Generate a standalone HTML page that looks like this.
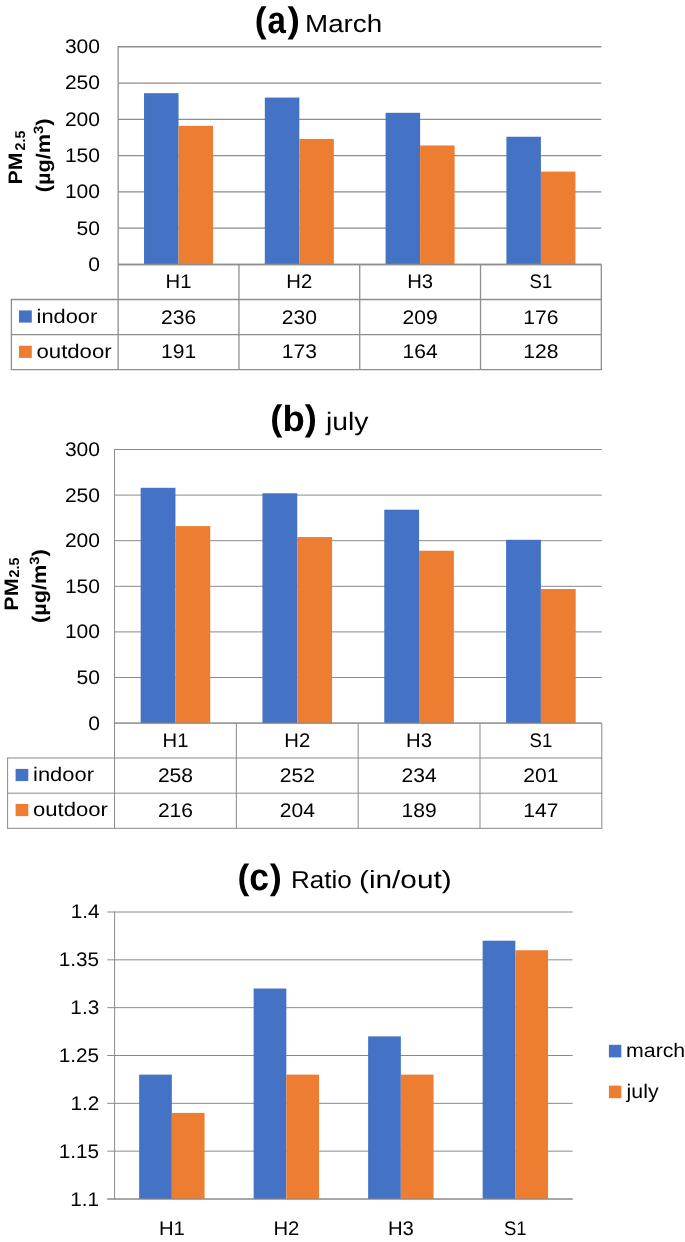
<!DOCTYPE html>
<html><head><meta charset="utf-8"><title>PM2.5 charts</title>
<style>
html,body{margin:0;padding:0;background:#fff;}
svg{display:block;will-change:transform;font-family:"Liberation Sans",sans-serif;fill:#000;}
</style></head><body>
<svg width="685" height="1242" viewBox="0 0 685 1242">
<rect width="685" height="1242" fill="#ffffff"/>
<g shape-rendering="auto">
<line x1="118.15" y1="46.75" x2="601.30" y2="46.75" stroke="#8E8E8E" stroke-width="1.3"/>
<line x1="118.15" y1="83.04" x2="601.30" y2="83.04" stroke="#8E8E8E" stroke-width="1.3"/>
<line x1="118.15" y1="119.33" x2="601.30" y2="119.33" stroke="#8E8E8E" stroke-width="1.3"/>
<line x1="118.15" y1="155.62" x2="601.30" y2="155.62" stroke="#8E8E8E" stroke-width="1.3"/>
<line x1="118.15" y1="191.92" x2="601.30" y2="191.92" stroke="#8E8E8E" stroke-width="1.3"/>
<line x1="118.15" y1="228.21" x2="601.30" y2="228.21" stroke="#8E8E8E" stroke-width="1.3"/>
<line x1="118.15" y1="264.50" x2="601.30" y2="264.50" stroke="#8E8E8E" stroke-width="1.3"/>
<rect x="144.03" y="93.20" width="34.51" height="171.30" fill="#4472C4"/>
<rect x="178.54" y="125.87" width="34.51" height="138.63" fill="#ED7D31"/>
<rect x="264.82" y="97.56" width="34.51" height="166.94" fill="#4472C4"/>
<rect x="299.33" y="138.93" width="34.51" height="125.57" fill="#ED7D31"/>
<rect x="385.61" y="112.80" width="34.51" height="151.70" fill="#4472C4"/>
<rect x="420.12" y="145.46" width="34.51" height="119.04" fill="#ED7D31"/>
<rect x="506.40" y="136.75" width="34.51" height="127.75" fill="#4472C4"/>
<rect x="540.91" y="171.59" width="34.51" height="92.91" fill="#ED7D31"/>
<line x1="118.15" y1="264.50" x2="601.30" y2="264.50" stroke="#8E8E8E" stroke-width="1.3"/>
<line x1="10.75" y1="299.50" x2="601.95" y2="299.50" stroke="#8E8E8E" stroke-width="1.3"/>
<line x1="10.75" y1="334.60" x2="601.95" y2="334.60" stroke="#8E8E8E" stroke-width="1.3"/>
<line x1="10.75" y1="369.60" x2="601.95" y2="369.60" stroke="#8E8E8E" stroke-width="1.3"/>
<line x1="118.15" y1="46.10" x2="118.15" y2="369.60" stroke="#8E8E8E" stroke-width="1.3"/>
<line x1="238.94" y1="264.50" x2="238.94" y2="369.60" stroke="#8E8E8E" stroke-width="1.3"/>
<line x1="359.73" y1="264.50" x2="359.73" y2="369.60" stroke="#8E8E8E" stroke-width="1.3"/>
<line x1="480.51" y1="264.50" x2="480.51" y2="369.60" stroke="#8E8E8E" stroke-width="1.3"/>
<line x1="601.30" y1="264.50" x2="601.30" y2="369.60" stroke="#8E8E8E" stroke-width="1.3"/>
<line x1="11.40" y1="299.50" x2="11.40" y2="369.60" stroke="#8E8E8E" stroke-width="1.3"/>
<line x1="114.55" y1="449.50" x2="601.80" y2="449.50" stroke="#8A8A8A" stroke-width="1.0"/>
<line x1="114.55" y1="495.10" x2="601.80" y2="495.10" stroke="#8A8A8A" stroke-width="1.0"/>
<line x1="114.55" y1="540.70" x2="601.80" y2="540.70" stroke="#8A8A8A" stroke-width="1.0"/>
<line x1="114.55" y1="586.30" x2="601.80" y2="586.30" stroke="#8A8A8A" stroke-width="1.0"/>
<line x1="114.55" y1="631.90" x2="601.80" y2="631.90" stroke="#8A8A8A" stroke-width="1.0"/>
<line x1="114.55" y1="677.50" x2="601.80" y2="677.50" stroke="#8A8A8A" stroke-width="1.0"/>
<line x1="114.55" y1="723.10" x2="601.80" y2="723.10" stroke="#8A8A8A" stroke-width="1.0"/>
<rect x="140.65" y="487.80" width="34.80" height="235.30" fill="#4472C4"/>
<rect x="175.46" y="526.11" width="34.80" height="196.99" fill="#ED7D31"/>
<rect x="262.47" y="493.28" width="34.80" height="229.82" fill="#4472C4"/>
<rect x="297.27" y="537.05" width="34.80" height="186.05" fill="#ED7D31"/>
<rect x="384.28" y="509.69" width="34.80" height="213.41" fill="#4472C4"/>
<rect x="419.08" y="550.73" width="34.80" height="172.37" fill="#ED7D31"/>
<rect x="506.09" y="539.79" width="34.80" height="183.31" fill="#4472C4"/>
<rect x="540.89" y="589.04" width="34.80" height="134.06" fill="#ED7D31"/>
<line x1="114.55" y1="723.10" x2="601.80" y2="723.10" stroke="#8A8A8A" stroke-width="1.0"/>
<line x1="7.10" y1="758.00" x2="602.30" y2="758.00" stroke="#8A8A8A" stroke-width="1.0"/>
<line x1="7.10" y1="793.20" x2="602.30" y2="793.20" stroke="#8A8A8A" stroke-width="1.0"/>
<line x1="7.10" y1="828.30" x2="602.30" y2="828.30" stroke="#8A8A8A" stroke-width="1.0"/>
<line x1="114.55" y1="449.00" x2="114.55" y2="828.30" stroke="#8A8A8A" stroke-width="1.0"/>
<line x1="236.36" y1="723.10" x2="236.36" y2="828.30" stroke="#8A8A8A" stroke-width="1.0"/>
<line x1="358.17" y1="723.10" x2="358.17" y2="828.30" stroke="#8A8A8A" stroke-width="1.0"/>
<line x1="479.99" y1="723.10" x2="479.99" y2="828.30" stroke="#8A8A8A" stroke-width="1.0"/>
<line x1="601.80" y1="723.10" x2="601.80" y2="828.30" stroke="#8A8A8A" stroke-width="1.0"/>
<line x1="7.60" y1="758.00" x2="7.60" y2="828.30" stroke="#8A8A8A" stroke-width="1.0"/>
<line x1="107.30" y1="912.00" x2="572.60" y2="912.00" stroke="#8A8A8A" stroke-width="1.0"/>
<line x1="107.30" y1="959.83" x2="572.60" y2="959.83" stroke="#8A8A8A" stroke-width="1.0"/>
<line x1="107.30" y1="1007.67" x2="572.60" y2="1007.67" stroke="#8A8A8A" stroke-width="1.0"/>
<line x1="107.30" y1="1055.50" x2="572.60" y2="1055.50" stroke="#8A8A8A" stroke-width="1.0"/>
<line x1="107.30" y1="1103.33" x2="572.60" y2="1103.33" stroke="#8A8A8A" stroke-width="1.0"/>
<line x1="107.30" y1="1151.17" x2="572.60" y2="1151.17" stroke="#8A8A8A" stroke-width="1.0"/>
<line x1="107.30" y1="1199.00" x2="572.60" y2="1199.00" stroke="#8A8A8A" stroke-width="1.0"/>
<rect x="139.14" y="1074.63" width="32.71" height="124.37" fill="#4472C4"/>
<rect x="171.85" y="1112.90" width="32.71" height="86.10" fill="#ED7D31"/>
<rect x="253.64" y="988.53" width="32.71" height="210.47" fill="#4472C4"/>
<rect x="286.35" y="1074.63" width="32.71" height="124.37" fill="#ED7D31"/>
<rect x="368.14" y="1036.37" width="32.71" height="162.63" fill="#4472C4"/>
<rect x="400.85" y="1074.63" width="32.71" height="124.37" fill="#ED7D31"/>
<rect x="482.64" y="940.70" width="32.71" height="258.30" fill="#4472C4"/>
<rect x="515.35" y="950.27" width="32.71" height="248.73" fill="#ED7D31"/>
<line x1="107.30" y1="1199.00" x2="572.60" y2="1199.00" stroke="#8A8A8A" stroke-width="1.0"/>
<line x1="114.60" y1="911.50" x2="114.60" y2="1199.50" stroke="#8A8A8A" stroke-width="1.0"/>
<rect x="19.00" y="310.40" width="12.80" height="12.20" fill="#4472C4"/>
<rect x="19.00" y="345.70" width="12.80" height="12.20" fill="#ED7D31"/>
<rect x="15.60" y="768.90" width="12.70" height="12.20" fill="#4472C4"/>
<rect x="15.60" y="803.90" width="12.70" height="12.20" fill="#ED7D31"/>
<rect x="608.90" y="1044.80" width="12.40" height="12.60" fill="#4472C4"/>
<rect x="608.90" y="1085.60" width="12.40" height="12.60" fill="#ED7D31"/>
</g>
<g text-rendering="geometricPrecision">
<text transform="translate(178.54,288.40) scale(1.0300,1)" font-size="19.70" text-anchor="middle">H1</text>
<text transform="translate(299.33,288.40) scale(1.0300,1)" font-size="19.70" text-anchor="middle">H2</text>
<text transform="translate(420.12,288.40) scale(1.0300,1)" font-size="19.70" text-anchor="middle">H3</text>
<text transform="translate(540.91,288.40) scale(0.9400,1)" font-size="19.70" text-anchor="middle">S1</text>
<text transform="translate(178.54,323.70) scale(1.0700,1)" font-size="19.70" text-anchor="middle">236</text>
<text transform="translate(299.33,323.70) scale(1.0700,1)" font-size="19.70" text-anchor="middle">230</text>
<text transform="translate(420.12,323.70) scale(1.0700,1)" font-size="19.70" text-anchor="middle">209</text>
<text transform="translate(540.91,323.70) scale(1.0700,1)" font-size="19.70" text-anchor="middle">176</text>
<text transform="translate(178.54,358.40) scale(1.0700,1)" font-size="19.70" text-anchor="middle">191</text>
<text transform="translate(299.33,358.40) scale(1.0700,1)" font-size="19.70" text-anchor="middle">173</text>
<text transform="translate(420.12,358.40) scale(1.0700,1)" font-size="19.70" text-anchor="middle">164</text>
<text transform="translate(540.91,358.40) scale(1.0700,1)" font-size="19.70" text-anchor="middle">128</text>
<text transform="translate(100.05,53.15) scale(1.0700,1)" font-size="19.70" text-anchor="end">300</text>
<text transform="translate(100.05,89.44) scale(1.0700,1)" font-size="19.70" text-anchor="end">250</text>
<text transform="translate(100.05,125.73) scale(1.0700,1)" font-size="19.70" text-anchor="end">200</text>
<text transform="translate(100.05,162.03) scale(1.0700,1)" font-size="19.70" text-anchor="end">150</text>
<text transform="translate(100.05,198.32) scale(1.0700,1)" font-size="19.70" text-anchor="end">100</text>
<text transform="translate(100.05,234.61) scale(1.0700,1)" font-size="19.70" text-anchor="end">50</text>
<text transform="translate(100.05,270.90) scale(1.0700,1)" font-size="19.70" text-anchor="end">0</text>
<text transform="translate(175.46,746.50) scale(1.0300,1)" font-size="19.70" text-anchor="middle">H1</text>
<text transform="translate(297.27,746.50) scale(1.0300,1)" font-size="19.70" text-anchor="middle">H2</text>
<text transform="translate(419.08,746.50) scale(1.0300,1)" font-size="19.70" text-anchor="middle">H3</text>
<text transform="translate(540.89,746.50) scale(0.9400,1)" font-size="19.70" text-anchor="middle">S1</text>
<text transform="translate(175.46,781.80) scale(1.0700,1)" font-size="19.70" text-anchor="middle">258</text>
<text transform="translate(297.27,781.80) scale(1.0700,1)" font-size="19.70" text-anchor="middle">252</text>
<text transform="translate(419.08,781.80) scale(1.0700,1)" font-size="19.70" text-anchor="middle">234</text>
<text transform="translate(540.89,781.80) scale(1.0700,1)" font-size="19.70" text-anchor="middle">201</text>
<text transform="translate(175.46,817.30) scale(1.0700,1)" font-size="19.70" text-anchor="middle">216</text>
<text transform="translate(297.27,817.30) scale(1.0700,1)" font-size="19.70" text-anchor="middle">204</text>
<text transform="translate(419.08,817.30) scale(1.0700,1)" font-size="19.70" text-anchor="middle">189</text>
<text transform="translate(540.89,817.30) scale(1.0700,1)" font-size="19.70" text-anchor="middle">147</text>
<text transform="translate(100.05,455.90) scale(1.0700,1)" font-size="19.70" text-anchor="end">300</text>
<text transform="translate(100.05,501.50) scale(1.0700,1)" font-size="19.70" text-anchor="end">250</text>
<text transform="translate(100.05,547.10) scale(1.0700,1)" font-size="19.70" text-anchor="end">200</text>
<text transform="translate(100.05,592.70) scale(1.0700,1)" font-size="19.70" text-anchor="end">150</text>
<text transform="translate(100.05,638.30) scale(1.0700,1)" font-size="19.70" text-anchor="end">100</text>
<text transform="translate(100.05,683.90) scale(1.0700,1)" font-size="19.70" text-anchor="end">50</text>
<text transform="translate(100.05,729.50) scale(1.0700,1)" font-size="19.70" text-anchor="end">0</text>
<text transform="translate(36.62,322.60) scale(1.1080,1)" font-size="19.70">indoor</text>
<text transform="translate(36.47,357.90) scale(1.1260,1)" font-size="19.70">outdoor</text>
<text transform="translate(33.01,780.90) scale(1.1132,1)" font-size="19.70">indoor</text>
<text transform="translate(32.98,816.40) scale(1.1221,1)" font-size="19.70">outdoor</text>
<text transform="translate(254.81,31.88) scale(0.9947,1)" font-size="35.57" font-weight="bold">(</text>
<text transform="translate(267.44,32.72) scale(0.8664,1)" font-size="38.18" font-weight="bold">a</text>
<text transform="translate(287.51,31.88) scale(1.0486,1)" font-size="35.57" font-weight="bold">)</text>
<text transform="translate(305.07,31.85) scale(1.1299,1)" font-size="24.56">March</text>
<text transform="translate(270.16,429.73) scale(1.0211,1)" font-size="35.58" font-weight="bold">(</text>
<text transform="translate(282.62,430.93) scale(1.0072,1)" font-size="36.21" font-weight="bold">b</text>
<text transform="translate(304.84,429.73) scale(1.0201,1)" font-size="35.58" font-weight="bold">)</text>
<text transform="translate(326.04,429.50) scale(1.1242,1)" font-size="25.20">july</text>
<text transform="translate(237.40,888.69) scale(1.0034,1)" font-size="35.30" font-weight="bold">(</text>
<text transform="translate(249.26,889.52) scale(0.9306,1)" font-size="38.18" font-weight="bold">c</text>
<text transform="translate(269.84,888.69) scale(1.0278,1)" font-size="35.30" font-weight="bold">)</text>
<text transform="translate(290.95,888.40) scale(1.0651,1)" font-size="24.40">Ratio</text>
<text transform="translate(359.01,888.30) scale(1.1906,1)" font-size="25.00">(in/out)</text>
<text transform="translate(99.65,917.90) scale(1.0530,1)" font-size="19.70" text-anchor="end">1.4</text>
<text transform="translate(99.10,965.87) scale(1.0530,1)" font-size="19.70" text-anchor="end">1.35</text>
<text transform="translate(99.20,1013.84) scale(1.0530,1)" font-size="19.70" text-anchor="end">1.3</text>
<text transform="translate(99.10,1061.81) scale(1.0530,1)" font-size="19.70" text-anchor="end">1.25</text>
<text transform="translate(99.30,1109.78) scale(1.0530,1)" font-size="19.70" text-anchor="end">1.2</text>
<text transform="translate(99.10,1157.75) scale(1.0530,1)" font-size="19.70" text-anchor="end">1.15</text>
<text transform="translate(99.10,1205.72) scale(1.0530,1)" font-size="19.70" text-anchor="end">1.1</text>
<text transform="translate(171.85,1234.90) scale(1.0300,1)" font-size="19.70" text-anchor="middle">H1</text>
<text transform="translate(286.35,1234.90) scale(1.0300,1)" font-size="19.70" text-anchor="middle">H2</text>
<text transform="translate(400.85,1234.90) scale(1.0300,1)" font-size="19.70" text-anchor="middle">H3</text>
<text transform="translate(515.35,1234.90) scale(0.9400,1)" font-size="19.70" text-anchor="middle">S1</text>
<text transform="translate(626.05,1057.00) scale(1.0817,1)" font-size="19.70">march</text>
<text transform="translate(626.54,1097.90) scale(1.0833,1)" font-size="19.70">july</text>
<text transform="translate(22.00,184.47) rotate(-90) scale(1.0943,1)" font-size="19.50" font-weight="bold">PM</text>
<text transform="translate(24.50,150.41) rotate(-90) scale(1.0003,1)" font-size="14.20" font-weight="bold">2.5</text>
<text transform="translate(50.10,192.30) rotate(-90) scale(1.0958,1)" font-size="19.80" font-weight="bold">(µg/m<tspan dy="-7.0" font-size="13.5">3</tspan><tspan dy="7.0">)</tspan></text>
<text transform="translate(18.40,610.64) rotate(-90) scale(1.1030,1)" font-size="19.50" font-weight="bold">PM</text>
<text transform="translate(18.65,577.51) rotate(-90) scale(1.0134,1)" font-size="14.20" font-weight="bold">2.5</text>
<text transform="translate(46.20,622.91) rotate(-90) scale(1.0958,1)" font-size="19.80" font-weight="bold">(µg/m<tspan dy="-7.0" font-size="13.5">3</tspan><tspan dy="7.0">)</tspan></text>
</g>
</svg>
</body></html>
